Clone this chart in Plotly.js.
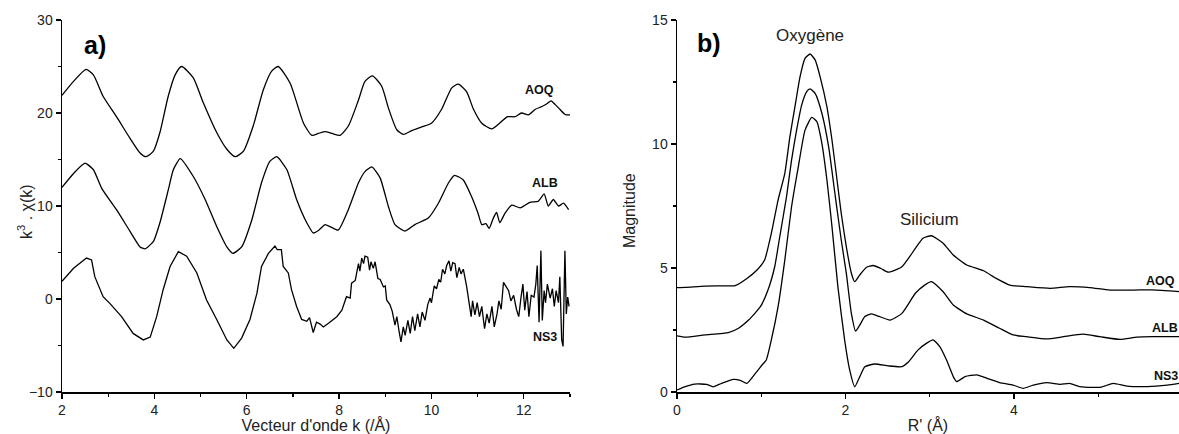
<!DOCTYPE html>
<html>
<head>
<meta charset="utf-8">
<script src="https://cdn.plot.ly/plotly-3.0.1.min.js"></script>
<style>html,body{margin:0;padding:0;background:#fff}#chart{width:1179px;height:434px}</style>
</head>
<body>
<div id="chart"></div>
<script>
// ---- Panel a) : k^3 chi(k) vs k ----
const aoqK = [2.0,2.25,2.52,2.68,2.89,3.18,3.47,3.69,3.82,3.98,4.12,4.30,4.45,4.59,4.84,5.06,5.35,5.57,5.75,5.93,6.14,6.36,6.54,6.68,6.94,7.23,7.41,7.55,7.70,7.85,8.02,8.20,8.42,8.56,8.72,8.92,9.07,9.25,9.39,9.57,9.79,10.0,10.22,10.44,10.58,10.76,10.91,11.09,11.31,11.52,11.65,11.81,11.95,12.10,12.25,12.39,12.50,12.59,12.68,12.78,12.88,12.93,13.0];
const aoqChi = [21.9,23.4,24.7,24.1,21.8,19.6,17.3,15.7,15.3,15.9,17.9,21.8,24.1,25.0,23.8,21.1,17.9,16.1,15.3,15.9,18.6,22.5,24.5,25.0,23.2,18.9,17.6,17.8,18.0,17.8,17.6,18.6,21.4,23.4,24.0,22.9,20.5,18.2,17.7,18.1,18.5,18.9,20.4,22.7,23.1,22.3,20.4,18.9,18.3,19.1,19.6,19.6,20.0,19.8,20.4,20.7,21.0,21.3,20.9,20.4,19.9,19.8,19.8];

const albK = [2.0,2.25,2.50,2.68,2.86,3.18,3.47,3.69,3.80,3.98,4.12,4.30,4.41,4.56,4.84,5.10,5.35,5.57,5.70,5.89,6.11,6.32,6.50,6.65,6.87,7.08,7.30,7.44,7.56,7.70,7.98,8.20,8.42,8.56,8.71,8.89,9.07,9.21,9.43,9.64,9.93,10.15,10.37,10.50,10.69,10.87,11.01,11.09,11.18,11.25,11.34,11.41,11.48,11.59,11.74,11.92,12.13,12.31,12.44,12.53,12.64,12.75,12.86,12.97];
const albChi = [12.0,13.5,14.6,13.9,11.9,9.6,7.3,5.6,5.4,6.2,8.2,11.7,13.9,15.1,13.2,10.7,7.8,5.6,4.9,5.6,8.5,12.5,14.8,15.3,13.9,10.7,8.2,7.1,7.4,8.0,7.4,9.6,12.5,13.7,14.2,13.0,9.9,8.0,7.3,8.0,8.7,10.3,12.5,13.3,12.8,11.0,9.2,8.0,8.1,7.6,8.7,9.3,8.2,9.2,10.1,9.8,10.4,10.5,11.3,10.0,10.7,10.0,10.3,9.6];

const ns3K = [2.0,2.25,2.53,2.64,2.71,2.89,3.04,3.29,3.54,3.76,3.91,4.05,4.19,4.34,4.52,4.70,4.92,5.13,5.35,5.57,5.72,5.89,6.07,6.22,6.32,6.47,6.61,6.66,6.75,6.79,6.90,6.97,7.08,7.19,7.30,7.36,7.44,7.51,7.59,7.66,7.77,7.95,8.06,8.16,8.24,8.27,8.35,8.38,8.42,8.45,8.49,8.53,8.56,8.62,8.66,8.69,8.74,8.78,8.84,8.89,8.96,9.0,9.03,9.10,9.15,9.21,9.25,9.30,9.34,9.39,9.43,9.49,9.54,9.59,9.64,9.70,9.75,9.80,9.86,9.92,9.97,10.0,10.06,10.11,10.16,10.20,10.24,10.29,10.33,10.38,10.42,10.46,10.51,10.55,10.60,10.64,10.69,10.76,10.81,10.86,10.89,10.94,10.99,11.04,11.09,11.15,11.20,11.25,11.31,11.36,11.42,11.46,11.51,11.56,11.62,11.67,11.72,11.78,11.84,11.89,11.94,11.98,12.02,12.07,12.11,12.16,12.22,12.26,12.29,12.33,12.37,12.40,12.44,12.47,12.51,12.57,12.62,12.66,12.70,12.75,12.78,12.82,12.85,12.89,12.92,12.95,12.98];
const ns3Chi = [1.9,3.3,4.4,4.2,2.4,0.25,-0.5,-1.9,-3.7,-4.4,-4.1,-1.9,1.0,3.5,5.1,4.6,2.8,-0.1,-2.2,-4.4,-5.3,-4.2,-2.2,0.6,3.5,4.9,5.7,5.3,5.3,3.5,2.8,1.0,-0.8,-2.2,-2.4,-2.0,-3.6,-2.5,-2.7,-3.0,-2.6,-1.9,-1.2,0.25,0.1,1.7,2.0,2.8,3.8,3.0,4.4,3.8,4.6,4.5,3.1,4.0,3.3,4.0,2.2,2.1,1.3,1.4,-0.1,-0.6,-1.3,-2.8,-1.9,-3.5,-4.6,-3.0,-3.9,-2.3,-3.7,-1.9,-3.4,-1.6,-3.0,-1.4,-2.3,-0.6,0.1,-0.4,1.4,1.1,2.1,1.8,3.2,2.7,3.6,4.1,3.0,3.9,3.8,2.3,3.4,2.7,3.2,1.4,-0.4,-1.9,-0.2,-1.7,-0.4,-1.9,-0.8,-3.2,-1.6,-2.6,-0.8,-3.0,-1.6,-0.2,-1.1,1.8,1.3,0.9,-0.2,0.4,-1.1,-1.9,0.2,1.6,-1.2,0.8,-1.9,0.4,0.2,1.6,3.6,-2.5,5.2,-2.3,0.9,-0.4,1.6,0.1,1.1,-0.8,0.9,-0.4,2.4,-4.4,-5.1,5.2,-1.6,0.2,-0.8];

// ---- Panel b) : Fourier transform magnitude vs R' ----
const aoqR = [0,0.1,0.33,0.5,0.69,0.83,0.95,1.04,1.12,1.20,1.28,1.34,1.40,1.46,1.52,1.58,1.64,1.70,1.78,1.84,1.90,1.95,2.01,2.07,2.11,2.17,2.25,2.33,2.42,2.51,2.67,2.83,2.92,3.02,3.16,3.28,3.44,3.64,3.79,3.95,4.15,4.43,4.66,4.90,5.14,5.42,5.65,5.96];
const aoqMag = [4.21,4.22,4.27,4.28,4.29,4.58,4.92,5.32,6.40,7.74,8.82,10.29,11.5,12.7,13.45,13.63,13.39,12.7,11.5,10.16,8.55,7.2,5.86,4.79,4.45,4.72,5.03,5.1,4.98,4.83,5.05,5.79,6.2,6.30,6.0,5.52,5.12,4.89,4.58,4.31,4.25,4.18,4.25,4.21,4.11,4.11,4.12,4.05];

const albR = [0,0.1,0.33,0.61,0.73,0.85,0.99,1.08,1.16,1.22,1.30,1.36,1.42,1.48,1.54,1.58,1.64,1.72,1.80,1.88,1.95,2.01,2.07,2.12,2.17,2.23,2.31,2.39,2.53,2.67,2.83,2.94,3.02,3.16,3.28,3.44,3.64,3.83,3.99,4.15,4.39,4.59,4.82,5.02,5.26,5.46,5.65,5.96];
const albMag = [2.26,2.21,2.30,2.39,2.57,2.90,3.44,4.11,5.05,6.26,7.87,9.35,10.56,11.57,12.11,12.22,12.04,11.24,9.89,7.87,6.13,4.79,3.17,2.46,2.70,3.04,3.15,3.06,2.90,3.17,3.98,4.31,4.45,4.04,3.51,3.15,2.90,2.57,2.30,2.23,2.14,2.23,2.33,2.23,2.12,2.21,2.23,2.23];

const ns3R = [0,0.09,0.21,0.35,0.43,0.53,0.67,0.75,0.83,0.93,1.01,1.06,1.12,1.20,1.28,1.36,1.44,1.52,1.60,1.66,1.72,1.78,1.84,1.91,1.99,2.05,2.11,2.17,2.23,2.35,2.51,2.67,2.75,2.86,2.96,3.04,3.12,3.20,3.28,3.32,3.42,3.56,3.68,3.83,3.99,4.11,4.23,4.39,4.55,4.66,4.78,4.94,5.04,5.18,5.34,5.58,5.82,5.96];
const ns3Mag = [0.08,0.21,0.32,0.31,0.21,0.35,0.51,0.47,0.35,0.75,1.09,1.29,2.1,3.44,5.32,7.47,9.08,10.56,11.07,10.9,10.03,8.55,6.67,4.25,2.1,0.89,0.21,0.62,1.02,1.13,1.05,1.02,1.22,1.69,1.96,2.10,1.83,1.29,0.62,0.42,0.62,0.69,0.55,0.38,0.28,0.15,0.28,0.38,0.31,0.35,0.22,0.19,0.2,0.35,0.24,0.22,0.28,0.35];

const sampleNames = ['AOQ','ALB','NS3'];

const FONT = 'Liberation Sans, Arial, Helvetica, sans-serif';
const lineStyle = {color:'#000', width:1.3};

const traces = [
  {x:aoqK, y:aoqChi, name:sampleNames[0], mode:'lines', line:Object.assign({shape:'spline', smoothing:0.6}, lineStyle), xaxis:'x', yaxis:'y'},
  {x:albK, y:albChi, name:sampleNames[1], mode:'lines', line:Object.assign({shape:'spline', smoothing:0.5}, lineStyle), xaxis:'x', yaxis:'y'},
  {x:ns3K, y:ns3Chi, name:sampleNames[2], mode:'lines', line:Object.assign({shape:'linear'}, lineStyle), xaxis:'x', yaxis:'y'},
  {x:aoqR, y:aoqMag, name:sampleNames[0], mode:'lines', line:Object.assign({shape:'spline', smoothing:0.5}, lineStyle), xaxis:'x2', yaxis:'y2'},
  {x:albR, y:albMag, name:sampleNames[1], mode:'lines', line:Object.assign({shape:'spline', smoothing:0.5}, lineStyle), xaxis:'x2', yaxis:'y2'},
  {x:ns3R, y:ns3Mag, name:sampleNames[2], mode:'lines', line:Object.assign({shape:'spline', smoothing:0.5}, lineStyle), xaxis:'x2', yaxis:'y2'}
];

const W = 1179, H = 434;
const yDom = [(H-392)/H, (H-20)/H];

function axisBase(extra){
  return Object.assign({
    showgrid:false, zeroline:false, showline:true, linecolor:'#000', linewidth:1.5,
    ticks:'outside', ticklen:5, tickwidth:1.3, tickcolor:'#000',
    tickfont:{family:FONT, size:14, color:'#222'},
    mirror:false, fixedrange:true, automargin:false
  }, extra);
}
const minorTicks = (d) => ({dtick:d, tick0:0, ticks:'outside', ticklen:3, tickcolor:'#000', tickwidth:1.2, showgrid:false});
const titleFont = {family:FONT, size:16, color:'#222'};
const labFont = {family:FONT, size:12.5, color:'#111'};

function note(xref, yref, x, y, text, font, extra){
  return Object.assign({xref:xref, yref:yref, x:x, y:y, text:text, showarrow:false,
    xanchor:'center', yanchor:'middle', font:font}, extra || {});
}

const layout = {
  width:W, height:H,
  margin:{l:0, r:0, t:0, b:0},
  paper_bgcolor:'#fff', plot_bgcolor:'#fff',
  showlegend:false,
  font:{family:FONT, color:'#000'},
  xaxis: axisBase({domain:[62/W, 570/W], range:[2,13], dtick:2, tick0:0, anchor:'y',
    minor:minorTicks(1),
    title:{text:"Vecteur d'onde k (/Å)", font:titleFont, standoff:4}}),
  yaxis: axisBase({domain:yDom, range:[-10,30], dtick:10, anchor:'x', minor:minorTicks(5)}),
  xaxis2: axisBase({domain:[677/W, 1], range:[0,5.96], dtick:2, tick0:0, anchor:'y2',
    minor:minorTicks(1),
    title:{text:"R' (Å)", font:titleFont, standoff:4}}),
  yaxis2: axisBase({domain:yDom, range:[0,15], dtick:5, anchor:'x2', minor:minorTicks(2.5)}),
  annotations:[
    // y-axis titles
    note('paper','paper', 25/W, (H-212)/H, 'k<sup>3</sup> . χ(k)', titleFont, {textangle:-90}),
    note('paper','paper', 630/W, (H-211)/H, 'Magnitude', titleFont, {textangle:-90}),
    // panel letters
    note('paper','paper', 95/W, (H-45)/H, '<b>a)</b>', {family:FONT, size:25, color:'#000'}),
    note('paper','paper', 709/W, (H-43)/H, '<b>b)</b>', {family:FONT, size:25, color:'#000'}),
    // sample labels
    note('x','y', 12.35, 22.5, '<b>'+sampleNames[0]+'</b>', labFont),
    note('x','y', 12.46, 12.5, '<b>'+sampleNames[1]+'</b>', labFont),
    note('x','y', 12.46, -4.1, '<b>'+sampleNames[2]+'</b>', labFont),
    note('x2','y2', 5.74, 4.48, '<b>'+sampleNames[0]+'</b>', labFont),
    note('x2','y2', 5.79, 2.58, '<b>'+sampleNames[1]+'</b>', labFont),
    note('x2','y2', 5.80, 0.65, '<b>'+sampleNames[2]+'</b>', labFont),
    // peak labels
    note('paper','paper', 810/W, (H-36)/H, 'Oxygène', {family:FONT, size:17, color:'#222'}),
    note('x2','y2', 3.0, 6.95, 'Silicium', {family:FONT, size:17, color:'#222'})
  ]
};

Plotly.newPlot('chart', traces, layout, {displayModeBar:false, staticPlot:true});
</script>
</body>
</html>
